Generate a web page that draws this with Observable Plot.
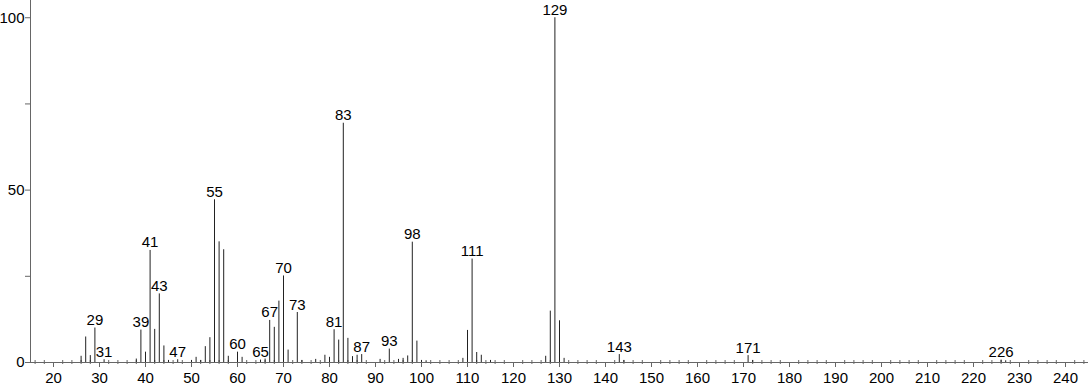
<!DOCTYPE html>
<html>
<head>
<meta charset="utf-8">
<script src="https://cdn.jsdelivr.net/npm/d3@7"></script>
<script src="https://cdn.jsdelivr.net/npm/@observablehq/plot@0.6"></script>
<style>
  html, body { margin: 0; padding: 0; background: #fff; }
  #chart svg { display: block; }
</style>
</head>
<body>
<div id="chart"></div>
<script>
// m/z values and relative intensities (%)
const mz = [26,27,28,29,31,38,39,40,41,42,43,44,45,47,50,51,52,53,54,55,56,57,58,60,61,65,66,67,68,69,70,71,73,74,77,79,80,81,82,83,84,85,86,87,91,93,95,96,97,98,99,100,101,109,110,111,112,113,115,127,128,129,130,131,143,144,171,172,226,227];
const intensity = [1.8,7.4,2,10,0.8,1,9.4,3,32.5,9.6,19.9,4.8,0.6,0.8,0.6,1.5,0.6,4.6,7.2,47.2,35,32.7,1.8,3,1.5,0.7,1,12.2,10.2,17.8,25.1,3.6,14.5,0.6,0.9,2.1,1.5,9.5,6.5,69.4,7,1.7,2.1,2.3,0.9,3.9,0.9,1.2,1.9,34.9,6.2,0.6,0.5,1.2,9.3,30,2.9,2.1,0.6,1.8,14.9,100,12.1,1.2,2.3,0.6,2,0.6,0.7,0.5];
const labeledMz = [29,31,39,41,43,47,55,60,65,67,70,73,81,83,87,93,98,111,129,143,171,226];
const xMajorTicks = [20,30,40,50,60,70,80,90,100,110,120,130,140,150,160,170,180,190,200,210,220,230,240];
const yTickLabels = [0,50,100];
const yMinorTicks = [25,75];

const peaks = mz.map((m, i) => ({mz: m, intensity: intensity[i]}));
const labels = peaks.filter(d => labeledMz.includes(d.mz));
const xMinorTicks = d3.range(16, 246, 2).filter(v => v % 10 !== 0);

const axisColor = "#666";
const chart = Plot.plot({
  width: 1091,
  height: 387,
  marginLeft: 30,
  marginRight: 3,
  marginTop: 0,
  marginBottom: 25,
  style: {fontFamily: "'Liberation Sans', Arial, sans-serif", fontSize: "15px", color: "#000", background: "#fff"},
  x: {domain: [15, 245]},
  y: {domain: [0, 105]},
  marks: [
    Plot.axisX({ticks: xMajorTicks, tickSize: 5, tickPadding: 5, stroke: axisColor, fill: "#000", fontSize: 15, label: null}),
    Plot.axisX({ticks: xMinorTicks, tickSize: 4, dy: -2, text: null, stroke: axisColor, label: null}),
    Plot.axisY({ticks: yTickLabels, tickSize: 5, tickPadding: 1, stroke: axisColor, fill: "#000", fontSize: 15, label: null}),
    Plot.axisY({ticks: yMinorTicks, tickSize: 5, text: null, stroke: axisColor, label: null}),
    Plot.ruleY([0], {stroke: axisColor}),
    Plot.ruleX([15], {stroke: axisColor}),
    Plot.ruleX(peaks, {x: "mz", y1: 0, y2: "intensity", stroke: "#222", strokeWidth: 1}),
    Plot.text(labels, {x: "mz", y: "intensity", text: d => String(d.mz), lineAnchor: "bottom", dy: -3, fill: "#000", fontSize: 15})
  ]
});
document.getElementById("chart").appendChild(chart);
</script>
</body>
</html>
